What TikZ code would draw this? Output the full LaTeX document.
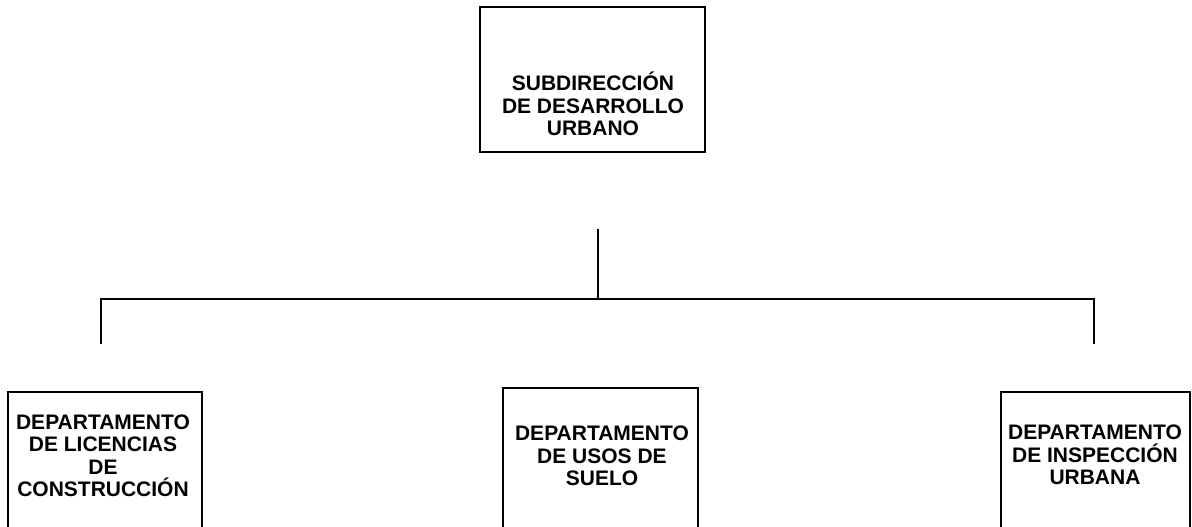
\documentclass[tikz,border=0pt]{standalone}
\usepackage{fontspec}
\setmainfont{Liberation Sans}
\begin{document}
\begin{tikzpicture}[x=1pt,y=-1pt,
  box/.style={draw=black,line width=1.5pt,fill=none,inner sep=0pt},
  lbl/.style={align=center,inner sep=0pt,font=\bfseries\fontsize{21}{22.5}\selectfont},
  conn/.style={draw=black,line width=1.5pt}]
\useasboundingbox (0,0) rectangle (1192,527);
\clip (0,0) rectangle (1192,527);
% boxes
\node[box,minimum width=225pt,minimum height=145pt] (top) at (592.5,79.5) {};
\node[lbl] (toplbl) at (593,104) {SUBDIRECCIÓN\\DE DESARROLLO\\URBANO};
\node[box,minimum width=194pt,minimum height=200pt] (left) at (105,492) {};
\node[lbl] (leftlbl) at (103,456) {DEPARTAMENTO\\DE LICENCIAS\\DE\\CONSTRUCCIÓN};
\node[box,minimum width=195pt,minimum height=200pt] (mid) at (600.5,488) {};
\node[lbl] (midlbl) at (602,456) {DEPARTAMENTO\\DE USOS DE\\SUELO};
\node[box,minimum width=189pt,minimum height=200pt] (right) at (1095.5,492) {};
\node[lbl] (rightlbl) at (1095,455) {DEPARTAMENTO\\DE INSPECCIÓN\\URBANA};
% connector points
\coordinate (stemtop) at (598,229);
\coordinate (stembot) at (598,299);
\coordinate (barL) at (101,299);
\coordinate (barR) at (1094,299);
\coordinate (dropL) at (101,344);
\coordinate (dropR) at (1094,344);
\draw[conn] (stemtop) -- (stembot);
\draw[conn] (dropL) -- (barL) -- (barR) -- (dropR);
\end{tikzpicture}
\end{document}
